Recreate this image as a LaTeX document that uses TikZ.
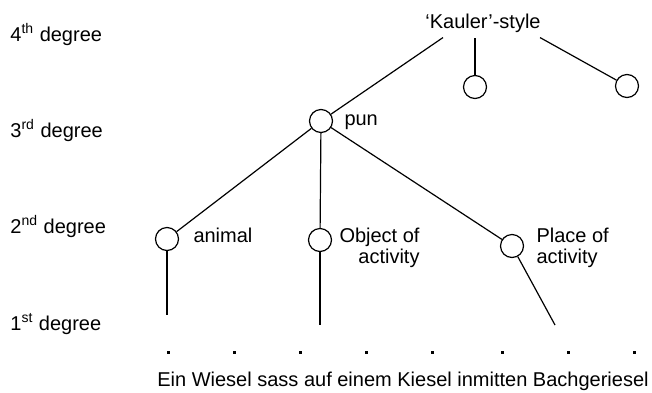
\documentclass[tikz,border=0pt]{standalone}
\usepackage{fontspec}
\setmainfont{Liberation Sans}
\usetikzlibrary{positioning}

\begin{document}
\begin{tikzpicture}[x=0.5pt, y=-0.5pt,
    every node/.style={font=\fontsize{10}{10.5}\selectfont},
    knot/.style={draw, circle, line width=0.6pt, inner sep=0pt, minimum size=11.5pt},
    lbl/.style={inner sep=0pt, anchor=base west},
    edge/.style={line width=0.6pt},
    wdot/.style={fill, inner sep=0pt, minimum size=1.5pt}]
    \useasboundingbox (0,0) rectangle (652,392);

    % degrees on the left
    \node[lbl] (deg4) at (10,41)  {4\textsuperscript{th} degree};
    \node[lbl] (deg3) at (10,137) {3\textsuperscript{rd} degree};
    \node[lbl] (deg2) at (10,233) {2\textsuperscript{nd} degree};
    \node[lbl] (deg1) at (10,330) {1\textsuperscript{st} degree};

    % the tree
    \node[inner xsep=0pt, inner ysep=2.5pt, anchor=base] (kauler) at (483,28) {`Kauler'-style};
    \node[knot] (pun)    at (321,121) {};
    \node[knot] (kright) at (475,87)  {};
    \node[knot] (kfar)   at (627,86)  {};
    \node[knot] (animal) at (167,239) {};
    \node[knot] (object) at (320,240) {};
    \node[knot] (place)  at (512,246) {};

    \node[lbl] at ([xshift=5.5pt, yshift=-2pt]pun.east) {pun};
    \node[lbl] at ([xshift=7pt, yshift=-1.5pt]animal.east) {animal};
    \node[lbl, align=right] at ([xshift=3.5pt, yshift=-11.5pt]object.east) {Object of\\activity};
    \node[lbl, align=left] at ([xshift=6pt, yshift=-8.5pt]place.east) {Place of\\activity};

    \coordinate (animalEnd) at (167,315);
    \coordinate (objectEnd) at (320,325);
    \coordinate (placeEnd)  at (555,325);

    \draw[edge] ([xshift=-20pt]kauler.south) -- (pun);
    \draw[edge] (kright) -- (kright |- kauler.south);
    \draw[edge] ([xshift=28.5pt]kauler.south) -- (kfar);
    \draw[edge] (pun) -- (animal);
    \draw[edge] (pun) -- (object);
    \draw[edge] (pun) -- (place);
    \draw[edge] (animal) -- (animalEnd);
    \draw[edge] (object) -- (objectEnd);
    \draw[edge] (place) -- (placeEnd);

    % one dot per word
    \foreach \x [count=\i] in {168,234,300,366,432,502,568,634}{
      \node[wdot] (w\i) at (\x,352) {};
    }
    \node[inner sep=0pt, anchor=base] (sentence) at (403,386)
        {Ein Wiesel sass auf einem Kiesel inmitten Bachgeriesel};
\end{tikzpicture}
\end{document}
